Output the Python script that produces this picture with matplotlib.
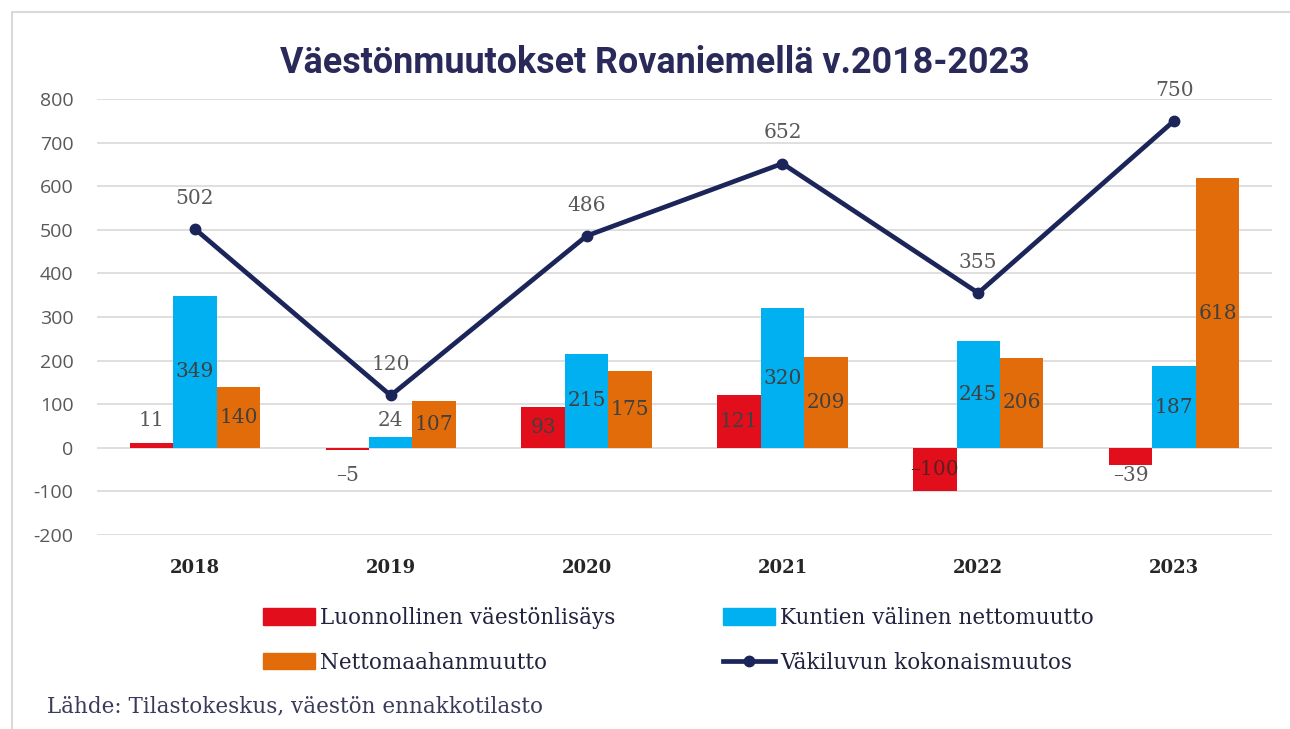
import matplotlib
matplotlib.use("Agg")
import matplotlib.pyplot as plt
from matplotlib.patches import Patch, Rectangle
from matplotlib.lines import Line2D
import numpy as np

years = ["2018", "2019", "2020", "2021", "2022", "2023"]
luonnollinen = [11, -5, 93, 121, -100, -39]
kuntien_valinen = [349, 24, 215, 320, 245, 187]
nettomaahanmuutto = [140, 107, 175, 209, 206, 618]
kokonaismuutos = [502, 120, 486, 652, 355, 750]

series_names = ["Luonnollinen väestönlisäys", "Kuntien välinen nettomuutto",
                "Nettomaahanmuutto", "Väkiluvun kokonaismuutos"]
y_ticks = [-200, -100, 0, 100, 200, 300, 400, 500, 600, 700, 800]

RED = "#E20E1B"
CYAN = "#00B0F0"
ORANGE = "#E36C0A"
NAVY = "#1B2559"
LABEL_GRAY = "#595959"

serif = ["DejaVu Serif"]
title_font = ["Roboto", "DejaVu Sans"]

fig = plt.figure(figsize=(12.9, 7.29), dpi=100)
ax = fig.add_axes([97 / 1290, 1 - 535 / 729, 1175 / 1290, 436 / 729])

x = np.arange(len(years))
w = 0.222
bars = []
for off, vals, col in [(-w, luonnollinen, RED), (0, kuntien_valinen, CYAN), (w, nettomaahanmuutto, ORANGE)]:
    b = ax.bar(x + off, vals, width=w, color=col, zorder=2)
    bars.append((b, vals))

# bar value labels: centred, small ones just outside (above/below zero)
for b, vals in bars:
    for rect, v in zip(b, vals):
        cx = rect.get_x() + rect.get_width() / 2
        txt = str(v).replace("-", "\u2013")
        if abs(v) < 50:
            ax.annotate(txt, (cx, 0), xytext=(0, 20 if v > 0 else -20),
                        textcoords="offset points", ha="center", va="center",
                        fontsize=14.5, color=LABEL_GRAY, family=serif, zorder=4)
        else:
            ax.text(cx, v / 2, txt, ha="center", va="center",
                    fontsize=14.5, color="#404040" if v > 0 else "#5a2020", family=serif, zorder=4)

ax.plot(x, kokonaismuutos, color=NAVY, lw=3.4, marker="o", ms=7.5, zorder=3)
for xi, v in zip(x, kokonaismuutos):
    ax.annotate(str(v), (xi, v), xytext=(0, 22), textcoords="offset points",
                ha="center", va="center", fontsize=14.5, color=LABEL_GRAY, family=serif)

ax.set_xlim(-0.5, 5.5)
ax.set_ylim(-200, 800)
ax.set_yticks(y_ticks)
ax.set_yticklabels([str(t) for t in y_ticks], fontsize=14, color=LABEL_GRAY,
                   family=["Open Sans", "DejaVu Sans"])
ax.set_xticks(x)
ax.set_xticklabels(years, fontsize=13, fontweight="bold", color="#262626", family=serif)
ax.tick_params(axis="both", length=0)
ax.tick_params(axis="y", pad=17)
ax.tick_params(axis="x", pad=17)
ax.grid(axis="y", color="#d9d9d9", lw=1.2, zorder=0)
ax.set_axisbelow(True)
for s in ax.spines.values():
    s.set_visible(False)

fig.text(655 / 1290, 1 - 63 / 729, "Väestönmuutokset Rovaniemellä v.2018-2023",
         ha="center", va="center", fontsize=25.8, fontweight="bold", color="#2A2A5A", family=title_font)

handles = [Patch(color=RED), Patch(color=ORANGE), Patch(color=CYAN),
           Line2D([], [], color=NAVY, lw=3.4, marker="o", ms=7.5)]
labels = [series_names[0], series_names[2], series_names[1], series_names[3]]
fig.legend(handles, labels, ncol=2, loc="upper left", bbox_to_anchor=(263 / 1290, 1 - 607 / 729),
           frameon=False, prop={"family": serif, "size": 15.5}, labelcolor="#22223f",
           handlelength=2.4, handleheight=0.8, handletextpad=0.25, columnspacing=5.0,
           labelspacing=1.05, borderpad=0, borderaxespad=0)

fig.text(47 / 1290, 1 - 706 / 729, "Lähde: Tilastokeskus, väestön ennakkotilasto",
         ha="left", va="center", fontsize=15.5, color="#3a3a5a", family=serif)

fig.patches.append(Rectangle((12 / 1290, -0.2), 1.2, 1.2 - 12 / 729, transform=fig.transFigure,
                             fill=False, edgecolor="#d9d9d9", lw=1.5, figure=fig))

fig.savefig("out.png", dpi=100)
